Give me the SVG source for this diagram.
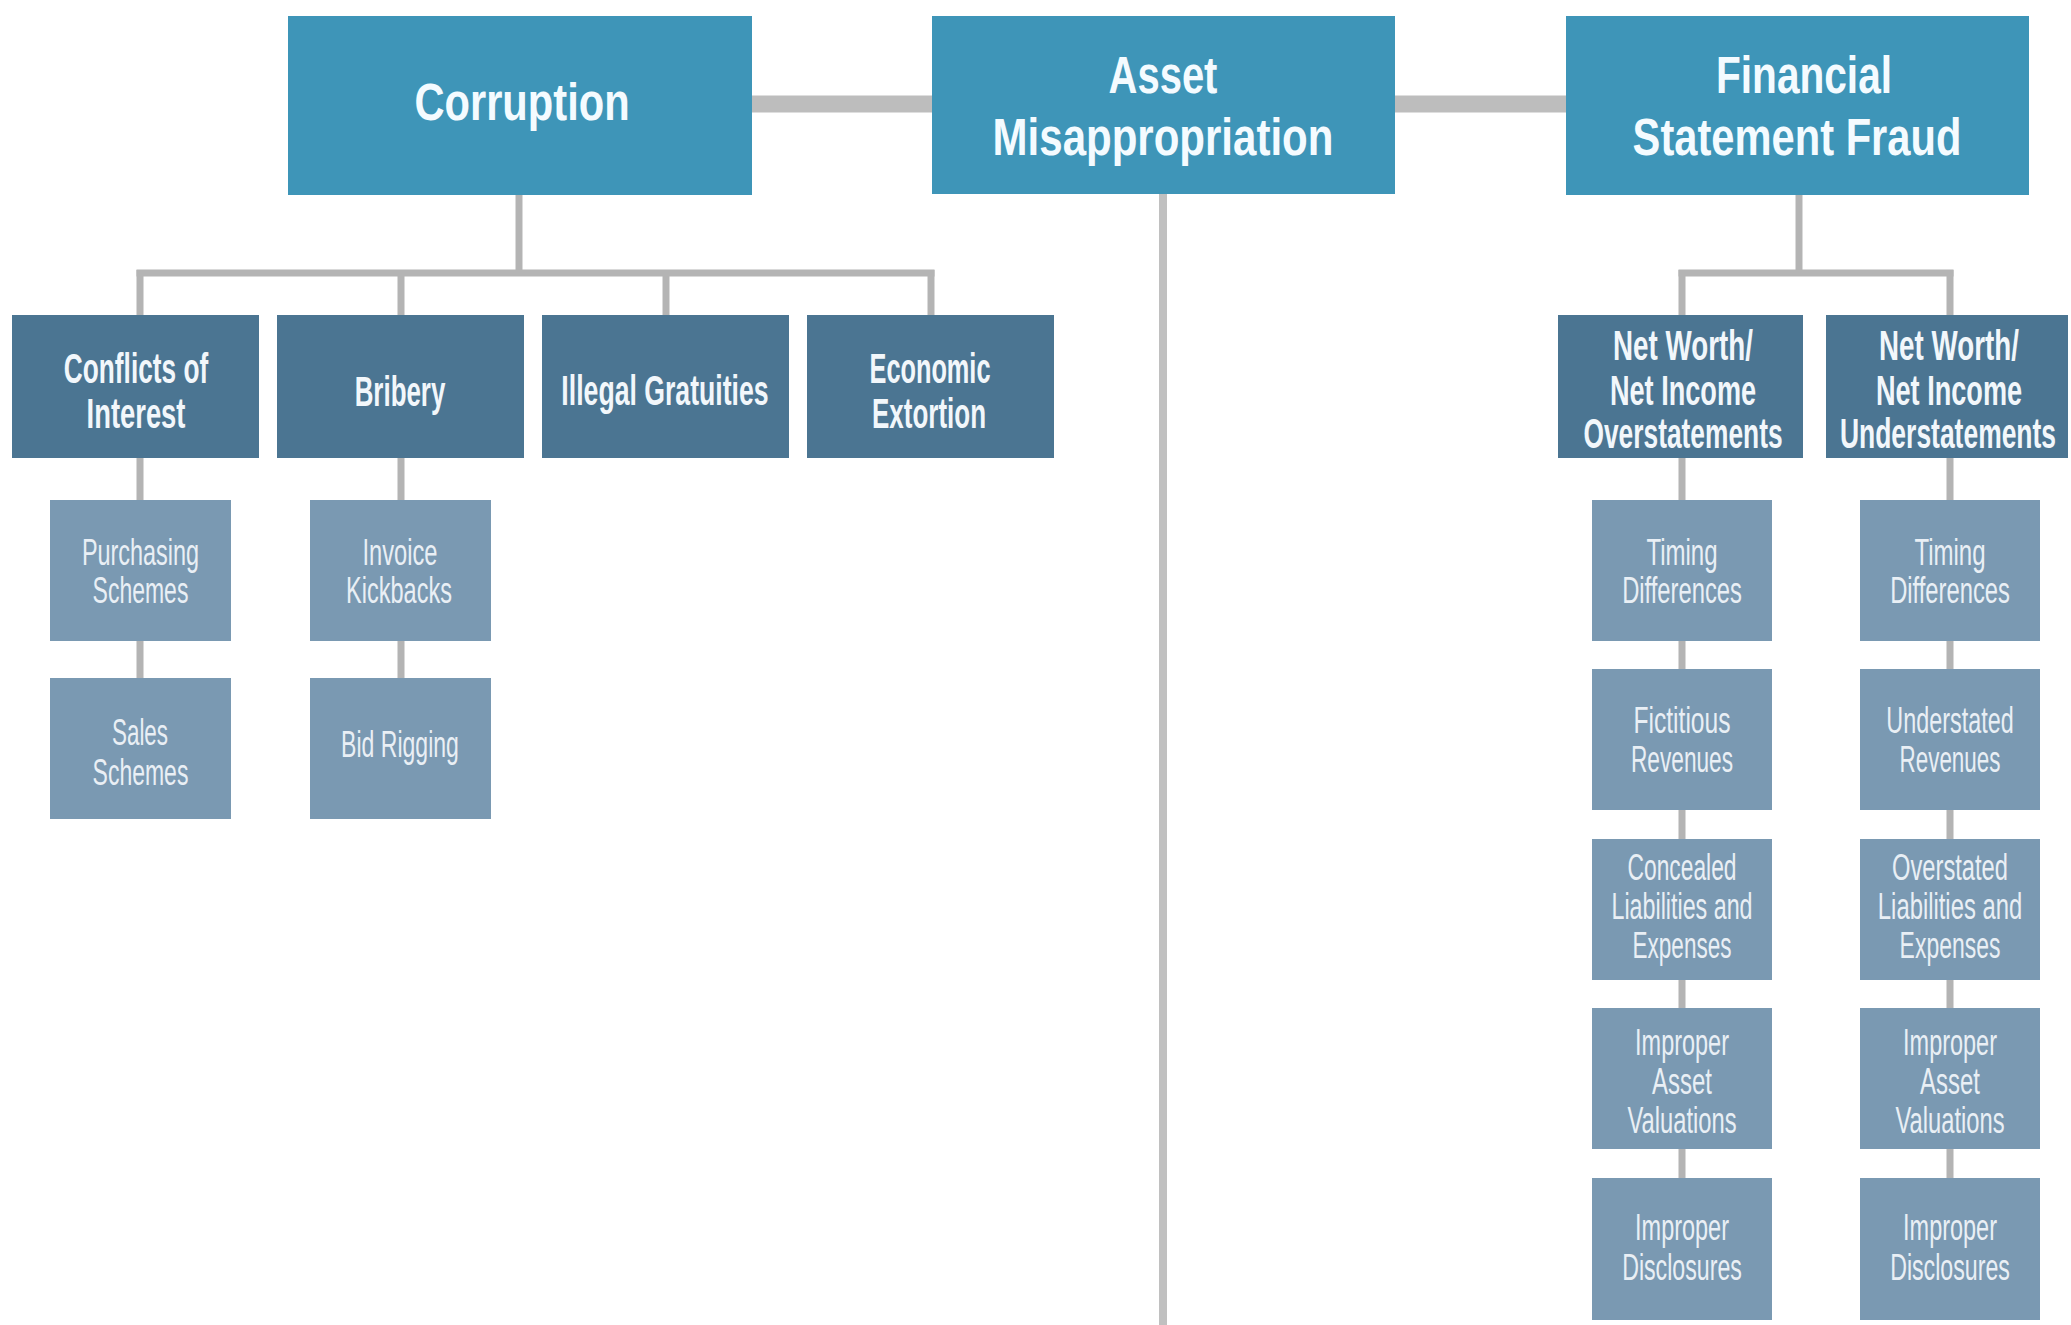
<svg xmlns="http://www.w3.org/2000/svg" width="2071" height="1325" viewBox="0 0 2071 1325">
<style>
.top{fill:#3e95b8}
.l2{fill:#4b7592}
.l3{fill:#7a99b2}
.t1{font-family:"Liberation Sans",Arial,sans-serif;font-weight:bold;font-size:52px;fill:#f4fbff;text-anchor:middle}
.t2{font-family:"Liberation Sans",Arial,sans-serif;font-weight:bold;font-size:42px;fill:#f2f7fb;text-anchor:middle}
.t3{font-family:"Liberation Sans",Arial,sans-serif;font-size:37px;fill:#e9eff5;text-anchor:middle}
.c{stroke:#b4b4b4;stroke-width:7;fill:none}
.cb{stroke:#bdbdbd;stroke-width:17;fill:none}
.cm{stroke:#c0c0c0;stroke-width:8;fill:none}
</style>
<rect width="2071" height="1325" fill="#ffffff"/>
<g id="connectors">
<line class="cb" x1="750" y1="104" x2="934" y2="104"/>
<line class="cb" x1="1393" y1="104" x2="1568" y2="104"/>
<line class="cm" x1="1163" y1="190" x2="1163" y2="1325"/>
<line class="c" x1="519" y1="195" x2="519" y2="273"/>
<line class="c" x1="136.5" y1="273" x2="934.5" y2="273"/>
<line class="c" x1="140" y1="270" x2="140" y2="680"/>
<line class="c" x1="401" y1="270" x2="401" y2="680"/>
<line class="c" x1="666" y1="270" x2="666" y2="317"/>
<line class="c" x1="931" y1="270" x2="931" y2="317"/>
<line class="c" x1="1799" y1="195" x2="1799" y2="273"/>
<line class="c" x1="1678.5" y1="273" x2="1953.5" y2="273"/>
<line class="c" x1="1682" y1="270" x2="1682" y2="1180"/>
<line class="c" x1="1950" y1="270" x2="1950" y2="1180"/>
</g>
<g id="corruption">
<rect class="top" x="288" y="16" width="464" height="179"/>
<text class="t1" transform="translate(522,0) scale(0.8,1)" x="0" y="120" textLength="269" lengthAdjust="spacingAndGlyphs">Corruption</text>
</g>
<g id="asset-misappropriation">
<rect class="top" x="932" y="16" width="463" height="178"/>
<text class="t1" transform="translate(1163,0) scale(0.8,1)" x="0" y="93" textLength="136" lengthAdjust="spacingAndGlyphs">Asset</text>
<text class="t1" transform="translate(1163,0) scale(0.8,1)" x="0" y="155" textLength="426" lengthAdjust="spacingAndGlyphs">Misappropriation</text>
</g>
<g id="financial-statement-fraud">
<rect class="top" x="1566" y="16" width="463" height="179"/>
<text class="t1" transform="translate(1804,0) scale(0.8,1)" x="0" y="93" textLength="220" lengthAdjust="spacingAndGlyphs">Financial</text>
<text class="t1" transform="translate(1797,0) scale(0.8,1)" x="0" y="155" textLength="411" lengthAdjust="spacingAndGlyphs">Statement Fraud</text>
</g>
<g id="conflicts-of-interest">
<rect class="l2" x="12" y="315" width="247" height="143"/>
<text class="t2" transform="translate(136,0) scale(0.63,1)" x="0" y="383" textLength="229" lengthAdjust="spacingAndGlyphs">Conflicts of</text>
<text class="t2" transform="translate(136,0) scale(0.63,1)" x="0" y="428" textLength="157" lengthAdjust="spacingAndGlyphs">Interest</text>
</g>
<g id="bribery">
<rect class="l2" x="277" y="315" width="247" height="143"/>
<text class="t2" transform="translate(400,0) scale(0.63,1)" x="0" y="406" textLength="144" lengthAdjust="spacingAndGlyphs">Bribery</text>
</g>
<g id="illegal-gratuities">
<rect class="l2" x="542" y="315" width="247" height="143"/>
<text class="t2" transform="translate(665,0) scale(0.63,1)" x="0" y="405" textLength="329" lengthAdjust="spacingAndGlyphs">Illegal Gratuities</text>
</g>
<g id="economic-extortion">
<rect class="l2" x="807" y="315" width="247" height="143"/>
<text class="t2" transform="translate(930,0) scale(0.63,1)" x="0" y="383" textLength="192" lengthAdjust="spacingAndGlyphs">Economic</text>
<text class="t2" transform="translate(929,0) scale(0.63,1)" x="0" y="428" textLength="181" lengthAdjust="spacingAndGlyphs">Extortion</text>
</g>
<g id="purchasing-schemes">
<rect class="l3" x="50" y="500" width="181" height="141"/>
<text class="t3" transform="translate(140.5,0) scale(0.63,1)" x="0" y="565" textLength="186" lengthAdjust="spacingAndGlyphs">Purchasing</text>
<text class="t3" transform="translate(140.5,0) scale(0.63,1)" x="0" y="603" textLength="152" lengthAdjust="spacingAndGlyphs">Schemes</text>
</g>
<g id="sales-schemes">
<rect class="l3" x="50" y="678" width="181" height="141"/>
<text class="t3" transform="translate(140,0) scale(0.63,1)" x="0" y="745" textLength="89" lengthAdjust="spacingAndGlyphs">Sales</text>
<text class="t3" transform="translate(140.5,0) scale(0.63,1)" x="0" y="785" textLength="152" lengthAdjust="spacingAndGlyphs">Schemes</text>
</g>
<g id="invoice-kickbacks">
<rect class="l3" x="310" y="500" width="181" height="141"/>
<text class="t3" transform="translate(400,0) scale(0.63,1)" x="0" y="565" textLength="119" lengthAdjust="spacingAndGlyphs">Invoice</text>
<text class="t3" transform="translate(399,0) scale(0.63,1)" x="0" y="603" textLength="168" lengthAdjust="spacingAndGlyphs">Kickbacks</text>
</g>
<g id="bid-rigging">
<rect class="l3" x="310" y="678" width="181" height="141"/>
<text class="t3" transform="translate(400,0) scale(0.63,1)" x="0" y="757" textLength="187" lengthAdjust="spacingAndGlyphs">Bid Rigging</text>
</g>
<g id="nw-overstatements">
<rect class="l2" x="1558" y="315" width="245" height="143"/>
<text class="t2" transform="translate(1683,0) scale(0.63,1)" x="0" y="360" textLength="222" lengthAdjust="spacingAndGlyphs">Net Worth/</text>
<text class="t2" transform="translate(1683,0) scale(0.63,1)" x="0" y="405" textLength="232" lengthAdjust="spacingAndGlyphs">Net Income</text>
<text class="t2" transform="translate(1683,0) scale(0.63,1)" x="0" y="448" textLength="316" lengthAdjust="spacingAndGlyphs">Overstatements</text>
</g>
<g id="nw-understatements">
<rect class="l2" x="1826" y="315" width="242" height="143"/>
<text class="t2" transform="translate(1949,0) scale(0.63,1)" x="0" y="360" textLength="222" lengthAdjust="spacingAndGlyphs">Net Worth/</text>
<text class="t2" transform="translate(1949,0) scale(0.63,1)" x="0" y="405" textLength="232" lengthAdjust="spacingAndGlyphs">Net Income</text>
<text class="t2" transform="translate(1948,0) scale(0.63,1)" x="0" y="448" textLength="343" lengthAdjust="spacingAndGlyphs">Understatements</text>
</g>
<g id="o-timing">
<rect class="l3" x="1592" y="500" width="180" height="141"/>
<text class="t3" transform="translate(1682,0) scale(0.63,1)" x="0" y="565" textLength="113" lengthAdjust="spacingAndGlyphs">Timing</text>
<text class="t3" transform="translate(1682,0) scale(0.63,1)" x="0" y="603" textLength="190" lengthAdjust="spacingAndGlyphs">Differences</text>
</g>
<g id="o-fictitious">
<rect class="l3" x="1592" y="669" width="180" height="141"/>
<text class="t3" transform="translate(1682,0) scale(0.63,1)" x="0" y="733" textLength="154" lengthAdjust="spacingAndGlyphs">Fictitious</text>
<text class="t3" transform="translate(1682,0) scale(0.63,1)" x="0" y="772" textLength="162" lengthAdjust="spacingAndGlyphs">Revenues</text>
</g>
<g id="o-concealed">
<rect class="l3" x="1592" y="839" width="180" height="141"/>
<text class="t3" transform="translate(1682,0) scale(0.63,1)" x="0" y="880" textLength="173" lengthAdjust="spacingAndGlyphs">Concealed</text>
<text class="t3" transform="translate(1682,0) scale(0.63,1)" x="0" y="919" textLength="224" lengthAdjust="spacingAndGlyphs">Liabilities and</text>
<text class="t3" transform="translate(1682,0) scale(0.63,1)" x="0" y="958" textLength="157" lengthAdjust="spacingAndGlyphs">Expenses</text>
</g>
<g id="o-valuations">
<rect class="l3" x="1592" y="1008" width="180" height="141"/>
<text class="t3" transform="translate(1682,0) scale(0.63,1)" x="0" y="1055" textLength="149" lengthAdjust="spacingAndGlyphs">Improper</text>
<text class="t3" transform="translate(1682,0) scale(0.63,1)" x="0" y="1094" textLength="95" lengthAdjust="spacingAndGlyphs">Asset</text>
<text class="t3" transform="translate(1682,0) scale(0.63,1)" x="0" y="1133" textLength="173" lengthAdjust="spacingAndGlyphs">Valuations</text>
</g>
<g id="o-disclosures">
<rect class="l3" x="1592" y="1178" width="180" height="142"/>
<text class="t3" transform="translate(1682,0) scale(0.63,1)" x="0" y="1240" textLength="149" lengthAdjust="spacingAndGlyphs">Improper</text>
<text class="t3" transform="translate(1682,0) scale(0.63,1)" x="0" y="1280" textLength="190" lengthAdjust="spacingAndGlyphs">Disclosures</text>
</g>
<g id="u-timing">
<rect class="l3" x="1860" y="500" width="180" height="141"/>
<text class="t3" transform="translate(1950,0) scale(0.63,1)" x="0" y="565" textLength="113" lengthAdjust="spacingAndGlyphs">Timing</text>
<text class="t3" transform="translate(1950,0) scale(0.63,1)" x="0" y="603" textLength="190" lengthAdjust="spacingAndGlyphs">Differences</text>
</g>
<g id="u-understated">
<rect class="l3" x="1860" y="669" width="180" height="141"/>
<text class="t3" transform="translate(1950,0) scale(0.63,1)" x="0" y="733" textLength="202" lengthAdjust="spacingAndGlyphs">Understated</text>
<text class="t3" transform="translate(1950,0) scale(0.63,1)" x="0" y="772" textLength="160" lengthAdjust="spacingAndGlyphs">Revenues</text>
</g>
<g id="u-overstated">
<rect class="l3" x="1860" y="839" width="180" height="141"/>
<text class="t3" transform="translate(1950,0) scale(0.63,1)" x="0" y="880" textLength="184" lengthAdjust="spacingAndGlyphs">Overstated</text>
<text class="t3" transform="translate(1950,0) scale(0.63,1)" x="0" y="919" textLength="229" lengthAdjust="spacingAndGlyphs">Liabilities and</text>
<text class="t3" transform="translate(1950,0) scale(0.63,1)" x="0" y="958" textLength="160" lengthAdjust="spacingAndGlyphs">Expenses</text>
</g>
<g id="u-valuations">
<rect class="l3" x="1860" y="1008" width="180" height="141"/>
<text class="t3" transform="translate(1950,0) scale(0.63,1)" x="0" y="1055" textLength="149" lengthAdjust="spacingAndGlyphs">Improper</text>
<text class="t3" transform="translate(1950,0) scale(0.63,1)" x="0" y="1094" textLength="95" lengthAdjust="spacingAndGlyphs">Asset</text>
<text class="t3" transform="translate(1950,0) scale(0.63,1)" x="0" y="1133" textLength="173" lengthAdjust="spacingAndGlyphs">Valuations</text>
</g>
<g id="u-disclosures">
<rect class="l3" x="1860" y="1178" width="180" height="142"/>
<text class="t3" transform="translate(1950,0) scale(0.63,1)" x="0" y="1240" textLength="149" lengthAdjust="spacingAndGlyphs">Improper</text>
<text class="t3" transform="translate(1950,0) scale(0.63,1)" x="0" y="1280" textLength="190" lengthAdjust="spacingAndGlyphs">Disclosures</text>
</g>
</svg>
